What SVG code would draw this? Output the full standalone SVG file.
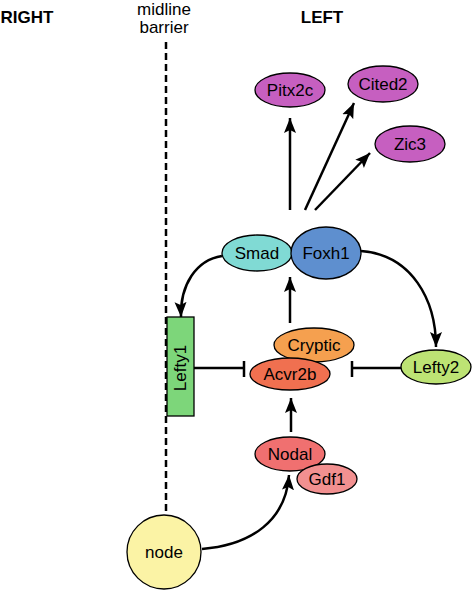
<svg xmlns="http://www.w3.org/2000/svg" width="472" height="591" viewBox="0 0 472 591">
<defs>
<marker id="arr" markerUnits="userSpaceOnUse" markerWidth="16" markerHeight="14" viewBox="0 0 16 14" refX="15" refY="7" orient="auto">
<path d="M0,1 L15,7 L0,13 L3,7 Z" fill="#000"/>
</marker>
<style>
text{font-family:"Liberation Sans",Arial,sans-serif;font-size:17px;fill:#000;text-anchor:middle}
.b{font-weight:bold}
.n{stroke:#000;stroke-width:1.3}
.c{fill:none;stroke:#000;stroke-width:2.5}
</style>
</defs>
<rect width="472" height="591" fill="#fff"/>
<text class="b" x="27" y="23">RIGHT</text>
<text class="b" x="322" y="23">LEFT</text>
<text x="164" y="15">midline</text>
<text x="164" y="33">barrier</text>
<line x1="166" y1="42" x2="166" y2="515" stroke="#000" stroke-width="2.5" stroke-dasharray="7,4"/>
<g id="connectors">
<path class="c" d="M290,210 L290,118" marker-end="url(#arr)"/>
<path class="c" d="M305,210 L354,103" marker-end="url(#arr)"/>
<path class="c" d="M315,210 L370,153" marker-end="url(#arr)"/>
<path class="c" d="M290,323 L290,277" marker-end="url(#arr)"/>
<path class="c" d="M291,432 L291,398" marker-end="url(#arr)"/>
<path class="c" d="M222,256 C196,260 180,285 181,317" marker-end="url(#arr)"/>
<path class="c" d="M361,251 C412,255 436,300 436,347" marker-end="url(#arr)"/>
<path class="c" d="M202,549 C252,545 286,520 289,475" marker-end="url(#arr)"/>
<path class="c" d="M194,368 L244,368 M244,361 L244,377"/>
<path class="c" d="M401,368 L352,368 M352,361 L352,377"/>
</g>
<g id="Pitx2c"><ellipse class="n" cx="290" cy="90" rx="35" ry="17" fill="#c65fc0"/><text x="290" y="96">Pitx2c</text></g>
<g id="Cited2"><ellipse class="n" cx="383" cy="84" rx="35" ry="18" fill="#c65fc0"/><text x="383" y="90">Cited2</text></g>
<g id="Zic3"><ellipse class="n" cx="410" cy="144" rx="35" ry="18" fill="#c65fc0"/><text x="410" y="150">Zic3</text></g>
<g id="Smad"><ellipse class="n" cx="257" cy="253" rx="35" ry="18" fill="#80dad4"/><text x="257" y="259">Smad</text></g>
<g id="Foxh1"><ellipse class="n" cx="326" cy="253" rx="35" ry="26" fill="#5e8fcf"/><text x="326" y="259">Foxh1</text></g>
<g id="Lefty1"><rect class="n" x="167" y="317" width="27" height="99" fill="#7dd67a"/><text transform="translate(186,368) rotate(-90)">Lefty1</text></g>
<g id="Cryptic"><ellipse class="n" cx="314" cy="345" rx="40" ry="17" fill="#f5a04f"/><text x="314" y="351">Cryptic</text></g>
<g id="Acvr2b"><ellipse class="n" cx="290" cy="374" rx="40" ry="16" fill="#f07050"/><text x="290" y="380">Acvr2b</text></g>
<g id="Lefty2"><ellipse class="n" cx="436" cy="367" rx="35" ry="17" fill="#bde374"/><text x="436" y="373">Lefty2</text></g>
<g id="Nodal"><ellipse class="n" cx="290" cy="454" rx="35" ry="17" fill="#f07070"/><text x="290" y="460">Nodal</text></g>
<g id="Gdf1"><ellipse class="n" cx="327" cy="479" rx="30" ry="15" fill="#f29090"/><text x="327" y="485">Gdf1</text></g>
<g id="node"><circle class="n" cx="164" cy="552" r="37" stroke-width="2" fill="#fbf3a5"/><text x="164" y="558">node</text></g>
</svg>
